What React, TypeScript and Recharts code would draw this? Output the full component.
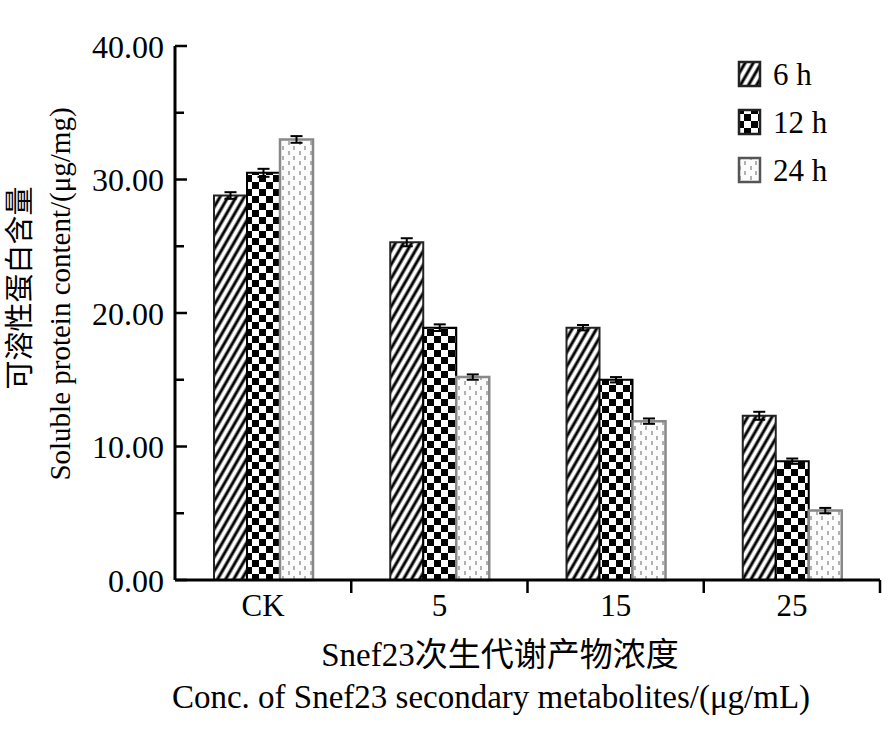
import React from 'react';
import { BarChart, Bar, XAxis, YAxis, ErrorBar } from 'recharts';

const categories = ['CK', '5', '15', '25'];
const values6h = [28.8, 25.3, 18.9, 12.3];
const values12h = [30.5, 18.9, 15.0, 8.9];
const values24h = [33.0, 15.2, 11.9, 5.2];
const err6h = [0.25, 0.3, 0.2, 0.3];
const err12h = [0.3, 0.25, 0.2, 0.2];
const err24h = [0.25, 0.2, 0.2, 0.2];
const seriesNames = ['6 h', '12 h', '24 h'];
const yTicks = [0, 5, 10, 15, 20, 25, 30, 35, 40];

const data = categories.map((c, i) => ({
  name: c,
  h6: values6h[i],
  h12: values12h[i],
  h24: values24h[i],
  e6: err6h[i],
  e12: err12h[i],
  e24: err24h[i],
}));

const FONT = '"Liberation Serif", "Times New Roman", "Noto Sans CJK SC", serif';
const W = 896;
const H = 732;
const PLOT_LEFT = 175;
const PLOT_RIGHT = 880;
const BAND = (PLOT_RIGHT - PLOT_LEFT) / categories.length;

const fills = ['url(#diag)', 'url(#checker)', 'url(#dots)'];
const strokes = ['#222', '#000', '#888'];

const Patterns = () => (
  <svg width={0} height={0} style={{ position: 'absolute' }}>
    <defs>
      <pattern id="diag" patternUnits="userSpaceOnUse" width={7} height={7} patternTransform="rotate(30)">
        <rect width={7} height={7} fill="#fff" />
        <line x1={2} y1={0} x2={2} y2={7} stroke="#000" strokeWidth={3} />
      </pattern>
      <pattern id="checker" patternUnits="userSpaceOnUse" width={14} height={14}>
        <rect width={14} height={14} fill="#fff" />
        <rect x={0} y={0} width={7} height={7} fill="#000" />
        <rect x={7} y={7} width={7} height={7} fill="#000" />
      </pattern>
      <pattern id="dots" patternUnits="userSpaceOnUse" width={11} height={10}>
        <rect width={11} height={10} fill="#fbfbfb" />
        <line x1={3} y1={1} x2={3} y2={5} stroke="#999" strokeWidth={1.5} />
        <line x1={8} y1={6} x2={8} y2={10} stroke="#999" strokeWidth={1.5} />
      </pattern>
    </defs>
  </svg>
);

const YTick = (props: any) => {
  const { x, y, payload } = props;
  const major = payload.value % 10 === 0;
  return (
    <g>
      <line x1={x + 10} x2={x + (major ? 22 : 19)} y1={y} y2={y} stroke="#000" strokeWidth={2.5} />
      {major && (
        <text x={x - 1} y={y} dy="0.36em" textAnchor="end" fontSize={32} fontFamily={FONT} fill="#000">
          {payload.value.toFixed(2)}
        </text>
      )}
    </g>
  );
};

const XTick = (props: any) => {
  const { x, y, payload } = props;
  const axisY = y - 14;
  return (
    <g>
      <line x1={x + BAND / 2} x2={x + BAND / 2} y1={axisY} y2={axisY + 13} stroke="#000" strokeWidth={2.5} />
      <text x={x} y={y} dy="0.71em" textAnchor="middle" fontSize={31} fontFamily={FONT} fill="#000">
        {payload.value}
      </text>
    </g>
  );
};

const YLabel = () => (
  <g fontFamily={FONT} fontSize={29} fill="#000">
    <text x={20} y={288} transform="rotate(-90, 20, 288)" textAnchor="middle" dominantBaseline="central">
      可溶性蛋白含量
    </text>
    <text x={60} y={294} transform="rotate(-90, 60, 294)" textAnchor="middle" dominantBaseline="central">
      Soluble protein content/(μg/mg)
    </text>
  </g>
);

const XLabel = () => (
  <g fontFamily={FONT} fontSize={33} fill="#000">
    <text x={500} y={655} textAnchor="middle" dominantBaseline="central">
      Snef23次生代谢产物浓度
    </text>
    <text x={491} y={697} textAnchor="middle" dominantBaseline="central">
      Conc. of Snef23 secondary metabolites/(μg/mL)
    </text>
  </g>
);

const LegendBox = () => (
  <div style={{ position: 'absolute', left: 737, top: 50 }}>
    {seriesNames.map((n, i) => (
      <div key={n} style={{ display: 'flex', alignItems: 'center', height: 48 }}>
        <svg width={26} height={30}>
          <rect x={2} y={3} width={21} height={24} fill={fills[i]} stroke={i === 2 ? '#555' : '#222'} strokeWidth={2.5} />
        </svg>
        <span style={{ marginLeft: 10, fontFamily: FONT, fontSize: 31, color: '#000', lineHeight: '31px' }}>{n}</span>
      </div>
    ))}
  </div>
);

export default function App() {
  return (
    <div style={{ position: 'absolute', left: 0, top: 0, width: W, height: H, background: '#fff' }}>
      <Patterns />
      <BarChart
        width={W}
        height={H}
        data={data}
        margin={{ top: 46, right: W - PLOT_RIGHT, bottom: 112, left: 80 }}
        barGap={0}
        barSize={33}
      >
        <XAxis
          dataKey="name"
          tickLine={false}
          tickSize={0}
          tickMargin={14}
          height={40}
          stroke="#000"
          strokeWidth={3}
          tick={<XTick />}
          interval={0}
          label={{ content: () => <XLabel /> }}
        />
        <YAxis
          domain={[0, 40]}
          ticks={yTicks}
          interval={0}
          width={95}
          tickLine={false}
          tickSize={0}
          tickMargin={10}
          stroke="#000"
          strokeWidth={3}
          tick={<YTick />}
          label={{ content: () => <YLabel /> }}
        />
        <Bar dataKey="h6" fill={fills[0]} stroke={strokes[0]} strokeWidth={2} isAnimationActive={false}>
          <ErrorBar dataKey="e6" width={6} stroke="#000" strokeWidth={2} />
        </Bar>
        <Bar dataKey="h12" fill={fills[1]} stroke={strokes[1]} strokeWidth={2} isAnimationActive={false}>
          <ErrorBar dataKey="e12" width={6} stroke="#000" strokeWidth={2} />
        </Bar>
        <Bar dataKey="h24" fill={fills[2]} stroke={strokes[2]} strokeWidth={2.5} isAnimationActive={false}>
          <ErrorBar dataKey="e24" width={6} stroke="#000" strokeWidth={2} />
        </Bar>
      </BarChart>
      <LegendBox />
    </div>
  );
}
